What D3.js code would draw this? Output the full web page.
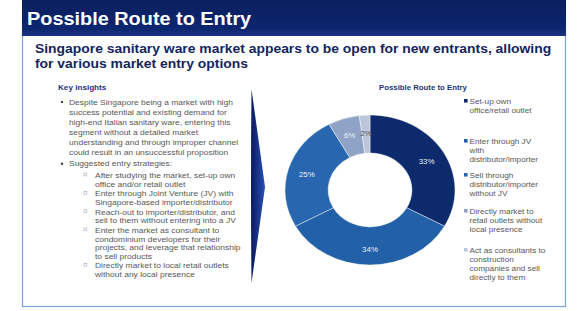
<!DOCTYPE html>
<html>
<head>
<meta charset="utf-8">
<script src="https://cdn.jsdelivr.net/npm/d3@7"></script>
<style>
  body { margin: 0; background: #fff; }
  svg { display: block; font-family: "Liberation Sans", Arial, sans-serif; }
</style>
</head>
<body>
<svg id="chart" width="577" height="311"></svg>
<script>
// Chart data
const routes = [
    'Set-up own office/retail outlet',
    'Enter through JV with distributor/importer',
    'Sell through distributor/importer without JV',
    'Directly market to retail outlets without local presence',
    'Act as consultants to construction companies and sell directly to them'
];
const shares = [33, 34, 25, 6, 2];
const legendLines = [
    ['Set-up own', 'office/retail outlet'],
    ['Enter through JV', 'with', 'distributor/importer'],
    ['Sell through', 'distributor/importer', 'without JV'],
    ['Directly market to', 'retail outlets without', 'local presence'],
    ['Act as consultants to', 'construction', 'companies and sell', 'directly to them']
];
const sliceColors = ['#0c2a6c', '#2260a8', '#2867b0', '#8fa3c6', '#bcc6da'];
const labelColors = ['#e8eef8', '#e8eef8', '#e8eef8', '#e8eef8', '#555'];

const insights = [
    { type: 'bullet', lines: ['Despite Singapore being a market with high', 'success potential and existing demand for',
        'high-end Italian sanitary ware, entering this', 'segment without a detailed market',
        'understanding and through improper channel', 'could result in an unsuccessful proposition'] },
    { type: 'bullet', lines: ['Suggested entry strategies:'] },
    { type: 'sub', lines: ['After studying the market, set-up own', 'office and/or retail outlet'] },
    { type: 'sub', lines: ['Enter through Joint Venture (JV) with', 'Singapore-based importer/distributor'] },
    { type: 'sub', lines: ['Reach-out to importer/distributor, and', 'sell to them without entering into a JV'] },
    { type: 'sub', lines: ['Enter the market as consultant to', 'condominium developers for their',
        'projects, and leverage that relationship', 'to sell products'] },
    { type: 'sub', lines: ['Directly market to local retail outlets', 'without any local presence'] }
];

// the slide is a little wider than tall, so text is stretched sideways
const SX = 1.13;

const svg = d3.select('#chart');
const defs = svg.append('defs');

const headGrad = defs.append('linearGradient').attr('id', 'head').attr('x1', 0).attr('x2', 0).attr('y1', 0).attr('y2', 1);
headGrad.append('stop').attr('offset', '0%').attr('stop-color', '#0a1f5e');
headGrad.append('stop').attr('offset', '80%').attr('stop-color', '#0d2670');
headGrad.append('stop').attr('offset', '100%').attr('stop-color', '#1a3580');

const arrowGrad = defs.append('linearGradient').attr('id', 'arrow').attr('x1', 0).attr('x2', 1).attr('y1', 0).attr('y2', 0);
arrowGrad.append('stop').attr('offset', '0%').attr('stop-color', '#0a1a5c');
arrowGrad.append('stop').attr('offset', '100%').attr('stop-color', '#2a4fb8');

function addText(sel, x, y, str) {
    return sel.append('text')
        .attr('transform', `translate(${x},${y}) scale(${SX},1)`)
        .text(str);
}

// Frame and header
svg.append('rect').attr('x', 22.5).attr('y', 30.5).attr('width', 543).attr('height', 276)
    .attr('fill', '#fff').attr('stroke', '#7aa6dc').attr('stroke-width', 1.2);
svg.append('rect').attr('x', 22).attr('y', 0).attr('width', 544).attr('height', 36).attr('fill', 'url(#head)');
addText(svg, 27, 25, 'Possible Route to Entry')
    .attr('fill', '#fff').attr('font-size', 17.6).attr('font-weight', 'bold');

addText(svg, 35, 53, 'Singapore sanitary ware market appears to be open for new entrants, allowing')
    .attr('fill', '#13255e').attr('font-size', 12.3).attr('font-weight', 'bold');
addText(svg, 35, 68, 'for various market entry options')
    .attr('fill', '#13255e').attr('font-size', 12.3).attr('font-weight', 'bold');

// Key insights
const left = svg.append('g');
addText(left, 58, 90, 'Key insights').attr('fill', '#1c3478')
    .attr('font-size', 7.2).attr('font-weight', 'bold');

let y = 104.5;
insights.forEach(item => {
    const isBullet = item.type === 'bullet';
    const tx = isBullet ? 69 : 95;
    const step = isBullet ? 10 : 8.5;
    if (isBullet) {
        left.append('circle').attr('cx', 62).attr('cy', y - 2.6).attr('r', 1.2).attr('fill', '#444');
    } else {
        left.append('rect').attr('x', 84).attr('y', y - 5).attr('width', 2.8).attr('height', 2.8)
            .attr('fill', 'none').attr('stroke', '#aaa').attr('stroke-width', 0.6);
    }
    item.lines.forEach((line, i) => {
        addText(left, tx, y + i * step, line).attr('fill', '#585858').attr('font-size', 7.5);
    });
    y += (item.lines.length - 1) * step + (isBullet ? 11.8 : 9.8);
});

// Arrow divider
svg.append('path')
    .attr('d', 'M251.5,89 L265,187 L251.5,283 Q250.5,187 251.5,89 Z')
    .attr('fill', 'url(#arrow)');

// Donut
const cx = 370, cy = 190, rOut = 75, rIn = 37, sx = 85 / 75;
addText(svg, 379, 90, 'Possible Route to Entry')
    .attr('fill', '#1c3478').attr('font-size', 6.9).attr('font-weight', 'bold');

const pie = d3.pie().sort(null).value(d => d);
const arcs = pie(shares);
const arc = d3.arc().innerRadius(rIn).outerRadius(rOut);
const labelArc = d3.arc().innerRadius((rIn + rOut) / 2 + 2).outerRadius((rIn + rOut) / 2 + 2);

const donut = svg.append('g').attr('transform', `translate(${cx},${cy}) scale(${sx},1)`);
donut.selectAll('path').data(arcs).enter().append('path')
    .attr('d', arc).attr('fill', (d, i) => sliceColors[i])
    .attr('stroke', '#fff').attr('stroke-width', 0.4);

svg.append('g').selectAll('text').data(arcs).enter().append('text')
    .attr('transform', d => `translate(${cx + labelArc.centroid(d)[0] * sx},${cy + labelArc.centroid(d)[1] + 3.5}) scale(${SX},1)`)
    .attr('text-anchor', 'middle').attr('font-size', 7)
    .attr('fill', (d, i) => labelColors[i])
    .text(d => d.data + '%');

// Legend
const legend = svg.append('g');
const legendY = [104, 144, 178, 214, 253];
legendLines.forEach((lines, i) => {
    legend.append('rect').attr('x', 464).attr('y', legendY[i] - 5).attr('width', 3.6).attr('height', 3.6)
        .attr('fill', sliceColors[i]);
    lines.forEach((line, j) => {
        addText(legend, 469.5, legendY[i] + j * 9, line).attr('fill', '#585858').attr('font-size', 7.3);
    });
});
</script>
</body>
</html>
